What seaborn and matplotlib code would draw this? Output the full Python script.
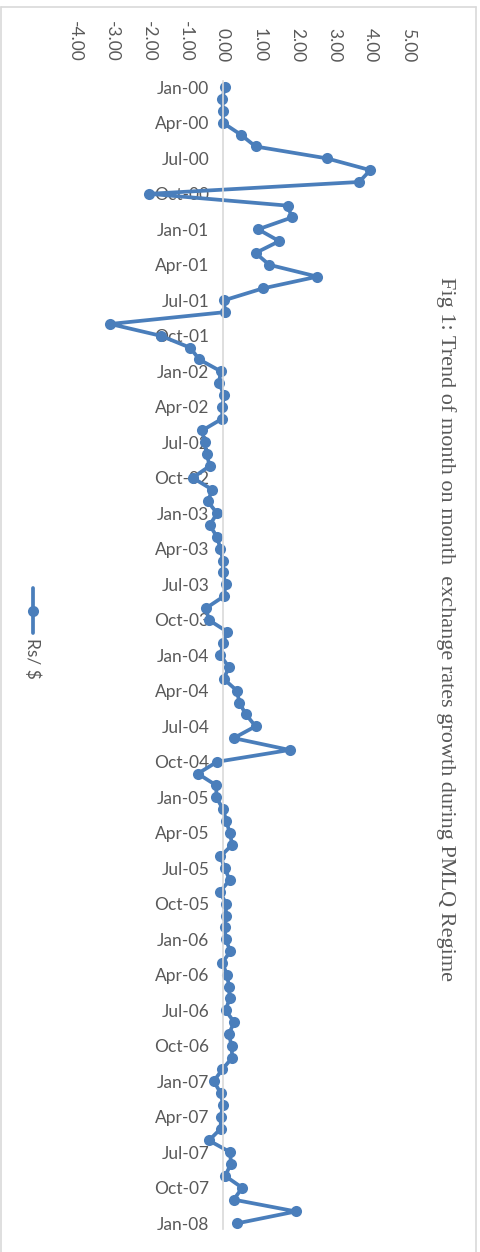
import matplotlib
matplotlib.use("Agg")
import matplotlib.pyplot as plt
from matplotlib.lines import Line2D
import numpy as np
import pandas as pd
import seaborn as sns

# Month-on-month growth of the Rs/$ exchange rate (%), Jan-2000 .. Jan-2008
growth_2000 = [0.05, -0.02, 0.00, 0.00, 0.48, 0.88, 2.80, 3.98, 3.68, -2.00, 1.75, 1.86]
growth_2001 = [0.95, 1.52, 0.88, 1.25, 2.55, 1.07, 0.03, 0.05, -3.05, -1.68, -0.89, -0.64]
growth_2002 = [-0.06, -0.11, 0.03, -0.02, -0.02, -0.56, -0.50, -0.44, -0.36, -0.82, -0.29, -0.41]
growth_2003 = [-0.16, -0.36, -0.16, -0.07, 0.00, 0.00, 0.07, 0.03, -0.45, -0.39, 0.11, 0.00]
growth_2004 = [-0.07, 0.16, 0.02, 0.38, 0.44, 0.62, 0.88, 0.29, 1.80, -0.16, -0.68, -0.18]
growth_2005 = [-0.18, 0.00, 0.09, 0.18, 0.25, -0.07, 0.05, 0.18, -0.09, 0.09, 0.07, 0.05]
growth_2006 = [0.07, 0.20, -0.02, 0.11, 0.16, 0.18, 0.07, 0.30, 0.16, 0.23, 0.25, -0.02]
growth_2007 = [-0.25, -0.06, 0.00, -0.06, -0.06, -0.38, 0.20, 0.21, 0.06, 0.52, 0.29, 1.97]
growth_2008 = [0.39]

month_names = ["Jan", "Feb", "Mar", "Apr", "May", "Jun",
               "Jul", "Aug", "Sep", "Oct", "Nov", "Dec"]
years = ["00", "01", "02", "03", "04", "05", "06", "07", "08"]
value_ticks = [-4, -3, -2, -1, 0, 1, 2, 3, 4, 5]

series_name = "Rs/ $"
title = "Fig 1: Trend of month on month  exchange rates growth during PMLQ Regime"

values = (growth_2000 + growth_2001 + growth_2002 + growth_2003 + growth_2004
          + growth_2005 + growth_2006 + growth_2007 + growth_2008)
months = [f"{m}-{y}" for y in years for m in month_names][:len(values)]

df = pd.DataFrame({"month": months, "growth": values, "pos": np.arange(len(values))})

sns.set_style("white")
plt.rcParams["font.family"] = ["Lato", "DejaVu Sans"]

W, H = 481, 1252
fig = plt.figure(figsize=(W / 100, H / 100), dpi=100)

def fx(px):
    return px / W

def fy(py):
    return 1 - py / H

ax_top, ax_bot = 81.4, 1229.2
ax = fig.add_axes([fx(75), fy(ax_bot), fx(408) - fx(75), (ax_bot - ax_top) / H])

line_color = "#4A7EBB"
text_color = "#595959"
label_size = 12.5

sns.lineplot(data=df, x="growth", y="pos", sort=False, estimator=None,
             color=line_color, lw=2.7, marker="o", markersize=8,
             markeredgewidth=0, ax=ax, legend=False)

ax.set_xlim(-4, 5)
ax.set_ylim(len(values) - 0.5, -0.5)
ax.set_xlabel("")
ax.set_ylabel("")

# value axis along the top, labels reading downward
ax.xaxis.tick_top()
ax.set_xticks(value_ticks)
ax.set_xticklabels([f"{v:.2f}" for v in value_ticks], rotation=-90,
                   fontsize=label_size, color=text_color)
ax.tick_params(axis="x", length=0, pad=14)

# category axis sits at zero
for s in ["top", "right", "bottom"]:
    ax.spines[s].set_visible(False)
ax.spines["left"].set_position(("data", 0))
ax.spines["left"].set_color("#D9D9D9")
ax.spines["left"].set_linewidth(1.2)
ax.set_yticks(df["pos"][::3])
ax.set_yticklabels(df["month"][::3], fontsize=label_size, color=text_color)
ax.set_yticks(np.arange(-0.5, len(values), 3), minor=True)
ax.tick_params(axis="y", which="major", length=0, pad=10)
ax.tick_params(axis="y", which="minor", length=5, width=1.2, color="#D9D9D9")
ax.grid(False)

# chart title, rotated along the right edge
fig.text(fx(446), fy(629), title, rotation=-90, ha="center", va="center",
         fontsize=16, color=text_color, family=["Liberation Serif", "DejaVu Serif"])

# legend entry on the left edge
fig.add_artist(Line2D([fx(33), fx(33)], [fy(588), fy(633)], transform=fig.transFigure,
                      color=line_color, lw=2.7))
fig.add_artist(Line2D([fx(33)], [fy(611)], transform=fig.transFigure,
                      color=line_color, marker="o", markersize=8, markeredgewidth=0))
fig.text(fx(32), fy(638), series_name, rotation=-90, ha="center", va="top",
         fontsize=label_size, color=text_color)

# chart area border
border = "#D9D9D9"
fig.add_artist(Line2D([fx(1.3), fx(476)], [fy(7.3), fy(7.3)], transform=fig.transFigure,
                      color=border, lw=1.2))
fig.add_artist(Line2D([fx(1.3), fx(1.3)], [fy(7.3), fy(1260)], transform=fig.transFigure,
                      color=border, lw=1.2))
fig.add_artist(Line2D([fx(476), fx(476)], [fy(7.3), fy(1260)], transform=fig.transFigure,
                      color=border, lw=1.2))

fig.savefig("out.png", dpi=100)
